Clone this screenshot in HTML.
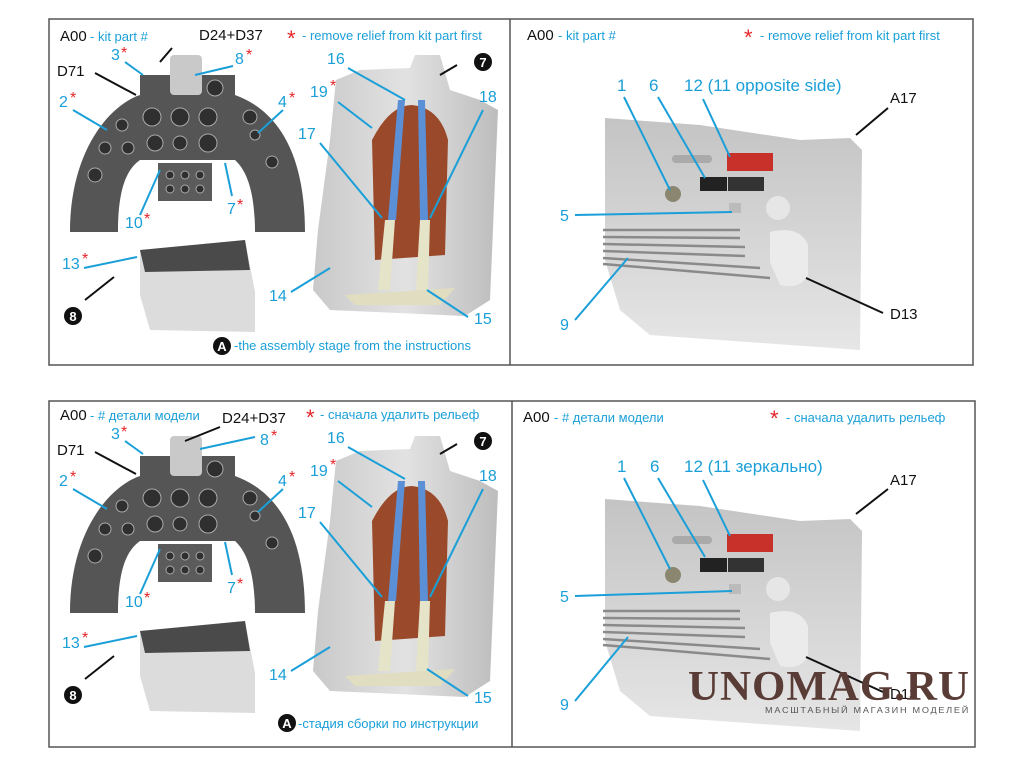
<!DOCTYPE html>
<html><head><meta charset="utf-8"><style>
html,body{margin:0;padding:0;background:#fff;width:1020px;height:765px;overflow:hidden}
svg{display:block;font-family:"Liberation Sans","DejaVu Sans",sans-serif}
.b{fill:#1a9fd8}.k{fill:#111}.r{fill:#e5262a}
.lb{stroke:#1a9fd8;stroke-width:2;fill:none}.lk{stroke:#111;stroke-width:2;fill:none}
</style></head><body>
<svg width="1020" height="765" viewBox="0 0 1020 765" xmlns="http://www.w3.org/2000/svg">
<defs>
<linearGradient id="seat" x1="0" y1="0" x2="1" y2="0"><stop offset="0" stop-color="#c9c9c9"/><stop offset="0.5" stop-color="#e2e2e2"/><stop offset="1" stop-color="#bdbdbd"/></linearGradient>
<linearGradient id="fus" x1="0" y1="0" x2="0" y2="1"><stop offset="0" stop-color="#c4c4c4"/><stop offset="0.6" stop-color="#d8d8d8"/><stop offset="1" stop-color="#e6e6e6"/></linearGradient>
<g id="leftart">
 <path d="M70,232 C70,150 110,105 140,95 L140,75 L235,75 L235,95 C282,112 305,160 305,232 L255,232 C255,190 246,170 235,160 L140,160 C126,170 118,190 118,232 Z" fill="#555"/>
 <rect x="158" y="163" width="54" height="38" fill="#5b5b5b"/>
 <rect x="170" y="55" width="32" height="40" rx="4" fill="#c9c9c9"/>
 <g fill="#2f2f2f" stroke="#aaa" stroke-width="1">
  <circle cx="152" cy="117" r="9"/><circle cx="180" cy="117" r="9"/><circle cx="208" cy="117" r="9"/>
  <circle cx="155" cy="143" r="8"/><circle cx="180" cy="143" r="7"/><circle cx="208" cy="143" r="9"/>
  <circle cx="215" cy="88" r="8"/><circle cx="122" cy="125" r="6"/><circle cx="105" cy="148" r="6"/><circle cx="128" cy="148" r="6"/>
  <circle cx="95" cy="175" r="7"/><circle cx="250" cy="117" r="7"/><circle cx="255" cy="135" r="5"/><circle cx="272" cy="162" r="6"/>
  <circle cx="170" cy="175" r="4"/><circle cx="185" cy="175" r="4"/><circle cx="200" cy="175" r="4"/>
  <circle cx="170" cy="189" r="4"/><circle cx="185" cy="189" r="4"/><circle cx="200" cy="189" r="4"/>
 </g>
 <path d="M140,250 L245,240 L255,292 L255,332 L150,330 L140,295 Z" fill="#dcdcdc"/>
 <path d="M140,250 L245,240 L250,270 L145,272 Z" fill="#4a4a4a"/>
 <path d="M336,80 L360,70 L410,68 L415,55 L440,55 L450,90 L480,100 L498,110 L490,300 L465,316 L330,310 L313,290 L318,230 L330,140 Z" fill="url(#seat)"/>
 <path d="M375,260 L372,140 Q390,105 412,105 Q440,108 448,140 L445,255 Z" fill="#9a4a2a"/>
 <path d="M398,100 L388,220 L396,220 L405,100 Z M418,100 L420,220 L428,220 L425,100 Z" fill="#5b8fd6"/>
 <path d="M385,220 L395,220 L390,290 L378,290 Z M420,220 L430,220 L428,290 L416,290 Z" fill="#e6e4c8"/>
 <path d="M345,295 L455,288 L440,305 L355,305 Z" fill="#e0ddc0"/>
</g>
<g id="rightart">
 <path d="M605,118 L700,125 L800,140 L850,138 L862,150 L860,350 L650,335 L620,310 L605,260 Z" fill="url(#fus)"/>
 <rect x="672" y="155" width="40" height="8" rx="4" fill="#aaa"/>
 <rect x="727" y="153" width="46" height="18" fill="#c8302a"/>
 <rect x="700" y="177" width="27" height="14" fill="#222"/><rect x="728" y="177" width="36" height="14" fill="#333"/>
 <circle cx="673" cy="194" r="8" fill="#8a8670"/>
 <rect x="729" y="203" width="12" height="10" fill="#bbb"/>
 <g stroke="#8a8a8a" stroke-width="2.5">
  <line x1="603" y1="230" x2="740" y2="230"/><line x1="603" y1="237" x2="740" y2="238"/><line x1="603" y1="244" x2="745" y2="247"/>
  <line x1="603" y1="251" x2="745" y2="256"/><line x1="603" y1="258" x2="760" y2="268"/><line x1="603" y1="264" x2="770" y2="278"/>
 </g>
 <circle cx="778" cy="208" r="12" fill="#e6e6e6"/>
 <path d="M770,232 Q800,225 808,245 L808,275 Q800,290 780,285 L770,262 Z" fill="#ebebeb"/>
</g>
</defs>

<rect x="49" y="19" width="924" height="346" fill="none" stroke="#555" stroke-width="1.5"/>
<line x1="510" y1="19" x2="510" y2="365" stroke="#555" stroke-width="1.5"/>
<rect x="49" y="401" width="926" height="346" fill="none" stroke="#555" stroke-width="1.5"/>
<line x1="512" y1="401" x2="512" y2="747" stroke="#555" stroke-width="1.5"/>

<use href="#leftart"/><use href="#rightart"/>
<use href="#leftart" transform="translate(0,381)"/><use href="#rightart" transform="translate(0,381)"/>

<!-- top left labels -->
<g>
<text x="60" y="41" font-size="15" class="k">A00</text><text x="90" y="41" font-size="13" class="b">- kit part #</text>
<text x="199" y="40" font-size="15" class="k">D24+D37</text>
<text x="287" y="46" font-size="22" class="r">*</text><text x="302" y="40" font-size="13" class="b">- remove relief from kit part first</text>
<text x="57" y="76" font-size="15" class="k">D71</text>
<text x="111" y="60" font-size="16" class="b">3</text><text x="121" y="58" font-size="16" class="r">*</text>
<text x="235" y="64" font-size="16" class="b">8</text><text x="246" y="60" font-size="16" class="r">*</text>
<text x="59" y="107" font-size="16" class="b">2</text><text x="70" y="103" font-size="16" class="r">*</text>
<text x="278" y="107" font-size="16" class="b">4</text><text x="289" y="103" font-size="16" class="r">*</text>
<text x="125" y="228" font-size="16" class="b">10</text><text x="144" y="224" font-size="16" class="r">*</text>
<text x="227" y="214" font-size="16" class="b">7</text><text x="237" y="210" font-size="16" class="r">*</text>
<text x="62" y="269" font-size="16" class="b">13</text><text x="82" y="264" font-size="16" class="r">*</text>
<circle cx="73" cy="316" r="9" fill="#111"/><text x="73" y="321" font-size="13" font-weight="bold" fill="#fff" text-anchor="middle">8</text>
<text x="327" y="64" font-size="16" class="b">16</text>
<text x="310" y="97" font-size="16" class="b">19</text><text x="330" y="91" font-size="16" class="r">*</text>
<text x="298" y="139" font-size="16" class="b">17</text>
<text x="479" y="102" font-size="16" class="b">18</text>
<circle cx="483" cy="62" r="9" fill="#111"/><text x="483" y="67" font-size="13" font-weight="bold" fill="#fff" text-anchor="middle">7</text>
<text x="269" y="301" font-size="16" class="b">14</text>
<text x="474" y="324" font-size="16" class="b">15</text>
<circle cx="222" cy="346" r="9" fill="#111"/><text x="222" y="351" font-size="13" font-weight="bold" fill="#fff" text-anchor="middle">A</text>
<text x="234" y="350" font-size="13" class="b">-the assembly stage from the instructions</text>
<path class="lk" d="M172,48 L160,62 M95,73 L136,95 M114,277 L85,300 M457,65 L440,75"/>
<path class="lb" d="M125,62 L143,75 M233,66 L195,75 M73,110 L107,130 M283,110 L258,133 M140,215 L160,170 M232,196 L225,163 M84,268 L137,257 M348,68 L405,100 M338,102 L372,128 M320,143 L382,218 M483,110 L430,218 M291,292 L330,268 M468,317 L427,290"/>
</g>

<!-- top right labels -->
<text x="527" y="40" font-size="15" class="k">A00</text><text x="558" y="40" font-size="13" class="b">- kit part #</text>
<text x="744" y="45" font-size="22" class="r">*</text><text x="760" y="40" font-size="13" class="b">- remove relief from kit part first</text>
<text x="617" y="91" font-size="17" class="b">1</text><text x="649" y="91" font-size="17" class="b">6</text>
<text x="684" y="91" font-size="17" class="b">12 (11 opposite side)</text>
<text x="890" y="103" font-size="15" class="k">A17</text>
<text x="560" y="221" font-size="16" class="b">5</text>
<text x="560" y="330" font-size="16" class="b">9</text>
<text x="890" y="319" font-size="15" class="k">D13</text>
<path class="lb" d="M624,97 L670,190 M658,97 L705,178 M703,99 L730,157 M575,215 L732,212 M575,320 L628,258"/>
<path class="lk" d="M888,108 L856,135 M883,313 L806,278"/>

<!-- bottom left labels -->
<g transform="translate(0,379)">
<text x="60" y="41" font-size="15" class="k">A00</text><text x="90" y="41" font-size="13" class="b">- # детали модели</text>
<text x="222" y="44" font-size="15" class="k">D24+D37</text>
<text x="306" y="46" font-size="22" class="r">*</text><text x="320" y="40" font-size="13" class="b">- сначала удалить рельеф</text>
<text x="57" y="76" font-size="15" class="k">D71</text>
<text x="111" y="60" font-size="16" class="b">3</text><text x="121" y="58" font-size="16" class="r">*</text>
<text x="260" y="66" font-size="16" class="b">8</text><text x="271" y="62" font-size="16" class="r">*</text>
<text x="59" y="107" font-size="16" class="b">2</text><text x="70" y="103" font-size="16" class="r">*</text>
<text x="278" y="107" font-size="16" class="b">4</text><text x="289" y="103" font-size="16" class="r">*</text>
<text x="125" y="228" font-size="16" class="b">10</text><text x="144" y="224" font-size="16" class="r">*</text>
<text x="227" y="214" font-size="16" class="b">7</text><text x="237" y="210" font-size="16" class="r">*</text>
<text x="62" y="269" font-size="16" class="b">13</text><text x="82" y="264" font-size="16" class="r">*</text>
<circle cx="73" cy="316" r="9" fill="#111"/><text x="73" y="321" font-size="13" font-weight="bold" fill="#fff" text-anchor="middle">8</text>
<text x="327" y="64" font-size="16" class="b">16</text>
<text x="310" y="97" font-size="16" class="b">19</text><text x="330" y="91" font-size="16" class="r">*</text>
<text x="298" y="139" font-size="16" class="b">17</text>
<text x="479" y="102" font-size="16" class="b">18</text>
<circle cx="483" cy="62" r="9" fill="#111"/><text x="483" y="67" font-size="13" font-weight="bold" fill="#fff" text-anchor="middle">7</text>
<text x="269" y="301" font-size="16" class="b">14</text>
<text x="474" y="324" font-size="16" class="b">15</text>
<circle cx="287" cy="344" r="9" fill="#111"/><text x="287" y="349" font-size="13" font-weight="bold" fill="#fff" text-anchor="middle">A</text>
<text x="298" y="349" font-size="13" class="b">-стадия сборки по инструкции</text>
<path class="lk" d="M220,48 L185,62 M95,73 L136,95 M114,277 L85,300 M457,65 L440,75"/>
<path class="lb" d="M125,62 L143,75 M255,58 L200,70 M73,110 L107,130 M283,110 L258,133 M140,215 L160,170 M232,196 L225,163 M84,268 L137,257 M348,68 L405,100 M338,102 L372,128 M320,143 L382,218 M483,110 L430,218 M291,292 L330,268 M468,317 L427,290"/>
</g>

<!-- bottom right labels -->
<g transform="translate(0,379)">
<text x="523" y="43" font-size="15" class="k">A00</text><text x="554" y="43" font-size="13" class="b">- # детали модели</text>
<text x="770" y="47" font-size="22" class="r">*</text><text x="786" y="43" font-size="13" class="b">- сначала удалить рельеф</text>
<text x="617" y="93" font-size="17" class="b">1</text><text x="650" y="93" font-size="17" class="b">6</text>
<text x="684" y="93" font-size="17" class="b">12 (11 зеркально)</text>
<text x="890" y="106" font-size="15" class="k">A17</text>
<text x="560" y="223" font-size="16" class="b">5</text>
<text x="560" y="331" font-size="16" class="b">9</text>
<text x="890" y="320" font-size="15" class="k">D13</text>
<path class="lb" d="M624,99 L670,190 M658,99 L705,178 M703,101 L730,157 M575,217 L732,212 M575,322 L628,258"/>
<path class="lk" d="M888,110 L856,135 M883,313 L806,278"/>
</g>
<text x="688" y="700" font-size="42" font-family="Liberation Serif,serif" font-weight="bold" fill="#5a3c36" letter-spacing="1" textLength="282" lengthAdjust="spacingAndGlyphs">UNOMAG.RU</text>
<text x="765" y="713" font-size="8" fill="#555" letter-spacing="1.5" textLength="205" lengthAdjust="spacingAndGlyphs">МАСШТАБНЫЙ МАГАЗИН МОДЕЛЕЙ</text>
</svg>
</body></html>
